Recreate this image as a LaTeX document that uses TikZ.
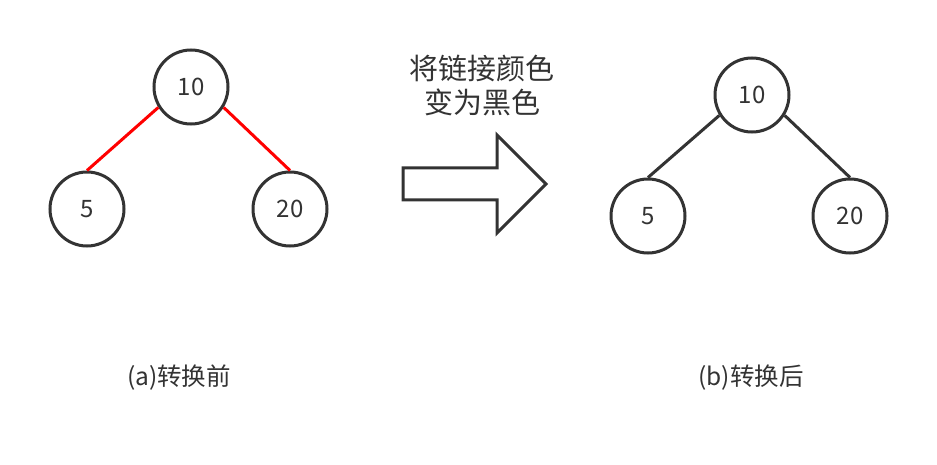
\documentclass[tikz,border=0pt]{standalone}
\usepackage{fontspec}
\setmainfont{Noto Sans CJK SC}
\definecolor{ink}{HTML}{333333}
\definecolor{hot}{HTML}{FF0000}
\tikzset{
  keynode/.style={circle,draw=ink,line width=3pt,minimum size=74pt,inner sep=0pt,
    fill=white,text=ink,font=\fontsize{24}{24}\selectfont},
  redlink/.style={draw=hot,line width=3pt},
  inklink/.style={draw=ink,line width=3pt},
  bigarrow/.style={draw=ink,line width=3pt,fill=white,line join=miter},
  headline/.style={text=ink,align=center,font=\fontsize{29}{34}\selectfont},
  caption/.style={text=ink,font=\fontsize{24.5}{24.5}\selectfont},
}
\begin{document}
\begin{tikzpicture}[x=1pt,y=-1pt]
  \useasboundingbox[fill=white] (0,0) rectangle (937,465);
  % before
  \node[keynode] (a10) at (191,87) {10};
  \node[keynode] (a5) at (87,209) {5};
  \node[keynode] (a20) at (290,209) {20};
  \draw[redlink] (a10.212) -- (a5.north);
  \draw[redlink] (a10.-32) -- (a20.north);
  \node[caption] (capa) at (179,378) {(a)转换前};
  % change
  \node[headline] (note) at (482,85) {将链接颜色\\变为黑色};
  \draw[bigarrow] (403,168) -- (497,168) -- (497,135) -- (546,184)
    -- (497,233) -- (497,200) -- (403,200) -- cycle;
  % after
  \node[keynode] (b10) at (752,95) {10};
  \node[keynode] (b5) at (648,216) {5};
  \node[keynode] (b20) at (850,216) {20};
  \draw[inklink] (b10.212) -- (b5.north);
  \draw[inklink] (b10.-32) -- (b20.north);
  \node[caption] (capb) at (751,378) {(b)转换后};
\end{tikzpicture}
\end{document}
